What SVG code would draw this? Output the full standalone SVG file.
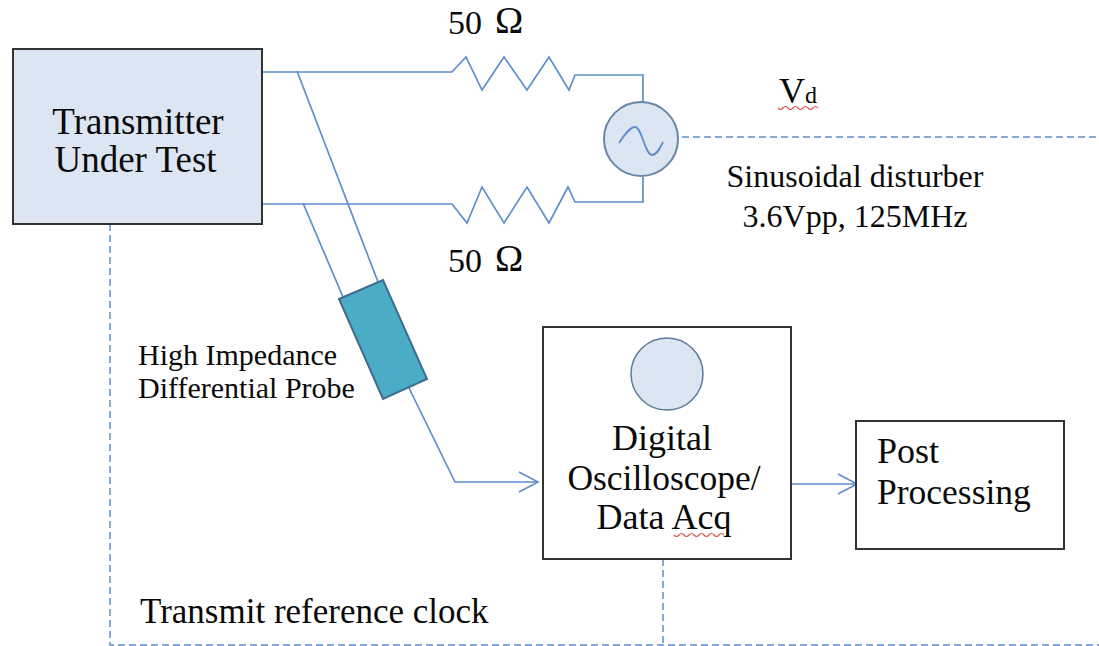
<svg xmlns="http://www.w3.org/2000/svg" width="1099" height="646" viewBox="0 0 1099 646">
<defs>
<marker id="arrow" markerUnits="userSpaceOnUse" markerWidth="22" markerHeight="24" refX="20" refY="12" orient="auto"><path d="M1 2 L20 12 L1 22" fill="none" stroke="#5f8fcb" stroke-width="1.6"/></marker>
</defs>
<style>
.box{fill:#fff;stroke:#333;stroke-width:2}
.t{font-family:"Liberation Serif","Times New Roman",serif;fill:#0a0a0a}
.w{fill:none;stroke:#5f8fcb;stroke-width:1.7}
.d{fill:none;stroke:#5f8fcb;stroke-width:1.5;stroke-dasharray:7 4}
.sq{fill:none;stroke:#d9534a;stroke-width:1.2}
</style>
<rect width="1099" height="646" fill="#fff"/>
<g id="connectors">
<path class="w" d="M262 72 H452 L466 57 L482 90 L504 57 L527 90 L549 57 L569 90 L575 75 H643 V102"/>
<path class="w" d="M262 204 H452 L467 223 L482 187 L504 223 L527 187 L549 223 L568 187 L575 202 H643 V177"/>
<path class="w" d="M297 71 L378 282"/>
<path class="w" d="M303 203 L343 297"/>
<path class="w" d="M409 388 L455 482 H538" marker-end="url(#arrow)"/>
<path class="w" d="M791 484 H857" marker-end="url(#arrow)"/>
<path class="d" d="M682 137 H1099"/>
<path class="d" d="M110 224 V645 H1099"/>
<path class="d" d="M663 559 V645"/>
</g>
<g id="transmitter"><rect x="13" y="49" width="249" height="175" fill="#dce6f2" stroke="#333" stroke-width="2"/>
<text class="t" x="138" y="134" font-size="37" text-anchor="middle">Transmitter</text>
<text class="t" x="135.500" y="172" font-size="37" text-anchor="middle">Under Test</text></g>
<g id="r1-label"><text class="t" x="448" y="34" font-size="34">50</text><text class="t" x="495" y="33" font-size="38">Ω</text></g>
<g id="r2-label"><text class="t" x="448" y="272" font-size="34">50</text><text class="t" x="495" y="271" font-size="38">Ω</text></g>
<g id="source"><circle cx="641" cy="139" r="37" fill="#dce6f2" stroke="#6a86a8" stroke-width="2"/>
<path d="M619 143 C625 134 630 127 635 127 C642 127 645 155 652 155 C657 155 660 148 663 142" fill="none" stroke="#5f8fcb" stroke-width="1.8"/></g>
<g id="vd"><text class="t" x="779" y="103" font-size="36">V<tspan font-size="24">d</tspan></text><path class="sq" d="M778 108 q2.500 3 5 0 t5 0 t5 0 t5 0 t5 0 t5 0 t5 0 t5 0"/></g>
<g id="disturber-label"><text class="t" x="855" y="187" font-size="32" text-anchor="middle">Sinusoidal disturber</text>
<text class="t" x="855" y="227" font-size="32" text-anchor="middle">3.6Vpp, 125MHz</text></g>
<g id="probe"><polygon points="339,299 383,280 427,379 383,399" fill="#4bacc6" stroke="#3e6c8f" stroke-width="2"/></g>
<g id="probe-label"><text class="t" x="138" y="365" font-size="30">High Impedance</text>
<text class="t" x="138" y="398" font-size="30">Differential Probe</text></g>
<g id="oscilloscope"><rect class="box" x="543" y="327" width="248" height="232"/>
<circle cx="667" cy="374" r="36" fill="#dce6f2" stroke="#5c7a9e" stroke-width="1.5"/>
<text class="t" x="662" y="450" font-size="36" text-anchor="middle">Digital</text>
<text class="t" x="664" y="490" font-size="35.500" text-anchor="middle">Oscilloscope/</text>
<text class="t" x="664" y="529" font-size="36" text-anchor="middle">Data Acq</text>
<path class="sq" d="M674 535 q2.500 3 5 0 t5 0 t5 0 t5 0 t5 0 t5 0 t5 0 t5 0 t5 0 t5 0"/></g>
<g id="post"><rect class="box" x="856" y="421" width="208" height="128"/>
<text class="t" x="877" y="463" font-size="36">Post</text>
<text class="t" x="877" y="504" font-size="35.500">Processing</text></g>
<g id="clock-label"><text class="t" x="140" y="623" font-size="35">Transmit reference clock</text></g>
</svg>
